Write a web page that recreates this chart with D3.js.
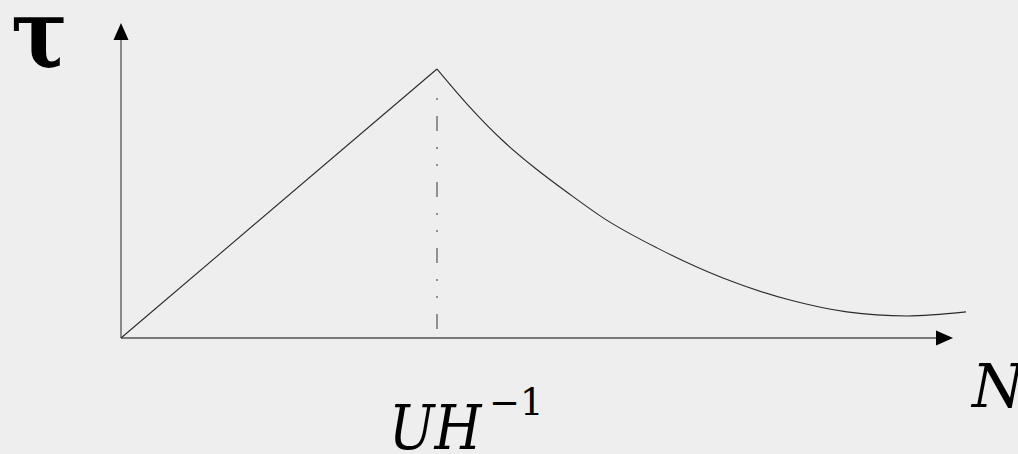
<!DOCTYPE html>
<html>
<head>
<meta charset="utf-8">
<script src="https://cdn.jsdelivr.net/npm/d3@7"></script>
<style>
  html, body { margin: 0; padding: 0; background: #eeeeee; }
  svg { display: block; }
</style>
</head>
<body>
<svg id="chart" width="1018" height="454"></svg>
<script>
// Linear rise from the origin up to the critical value N = UH^-1
const riseN   = [0, 1];
const riseTau = [0, 1];

// Decay beyond the critical value
const decayN   = [1.000, 1.098, 1.206, 1.310, 1.415, 1.532, 1.696, 1.905, 2.117, 2.297, 2.487, 2.674];
const decayTau = [1.000, 0.866, 0.736, 0.632, 0.539, 0.442, 0.335, 0.223, 0.141, 0.097, 0.082, 0.097];

// Axis extents and labels
const axisMaxN   = 2.633;
const axisMaxTau = 1.171;
const criticalN  = 1;
const yLabel = "τ";
const xLabel = "N";
const critLabel = "UH";
const critExponent = "−1";

const svg = d3.select("#chart");
const W = 1018, H = 454;

svg.append("rect").attr("width", W).attr("height", H).attr("fill", "#eeeeee");

const x = d3.scaleLinear().domain([0, 1]).range([121, 437]);
const y = d3.scaleLinear().domain([0, 1]).range([338, 69]);

const axisColor = "#555";

// Axes
svg.append("line")
  .attr("x1", x(0)).attr("y1", y(0))
  .attr("x2", x(axisMaxN) - 14).attr("y2", y(0))
  .attr("stroke", axisColor).attr("stroke-width", 1.3);
svg.append("line")
  .attr("x1", x(0)).attr("y1", y(0))
  .attr("x2", x(0)).attr("y2", y(axisMaxTau) + 14)
  .attr("stroke", axisColor).attr("stroke-width", 1.3);

// Arrow heads
const xa = x(axisMaxN), ya = y(0);
svg.append("path")
  .attr("d", `M${xa},${ya} L${xa - 17},${ya - 7.5} L${xa - 17},${ya + 7.5} Z`)
  .attr("fill", "#000");
const yx = x(0), yt = y(axisMaxTau);
svg.append("path")
  .attr("d", `M${yx},${yt} L${yx - 7.5},${yt + 17} L${yx + 7.5},${yt + 17} Z`)
  .attr("fill", "#000");

// Dash-dot marker at the critical value
svg.append("line")
  .attr("x1", x(criticalN)).attr("y1", y(0) - 9)
  .attr("x2", x(criticalN)).attr("y2", y(1) + 14)
  .attr("stroke", "#6a6a6a").attr("stroke-width", 1.4)
  .attr("stroke-dasharray", "15,16,2,15,2,16");

const line = d3.line().x(d => x(d[0])).y(d => y(d[1]));

svg.append("path")
  .attr("d", line.curve(d3.curveLinear)(d3.zip(riseN, riseTau)))
  .attr("fill", "none").attr("stroke", "#2a2a2a").attr("stroke-width", 1.1);

svg.append("path")
  .attr("d", line.curve(d3.curveMonotoneX)(d3.zip(decayN, decayTau)))
  .attr("fill", "none").attr("stroke", "#2a2a2a").attr("stroke-width", 1.1);

// Labels
svg.append("text")
  .attr("transform", "translate(11,67) scale(0.88,1)")
  .attr("font-family", "DejaVu Serif")
  .attr("font-weight", "bold")
  .attr("font-size", 96)
  .attr("fill", "#000")
  .text(yLabel);

svg.append("text")
  .attr("x", 972).attr("y", 407)
  .attr("font-family", "DejaVu Serif")
  .attr("font-style", "italic")
  .attr("font-size", 60)
  .attr("fill", "#000")
  .text(xLabel);

svg.append("text")
  .attr("transform", "translate(389,449) scale(0.87,1)")
  .attr("font-family", "DejaVu Serif")
  .attr("font-style", "italic")
  .attr("font-size", 62)
  .attr("fill", "#000")
  .text(critLabel);

svg.append("text")
  .attr("x", 489).attr("y", 415)
  .attr("font-family", "DejaVu Serif")
  .attr("font-size", 37)
  .attr("fill", "#000")
  .text(critExponent);
</script>
</body>
</html>
